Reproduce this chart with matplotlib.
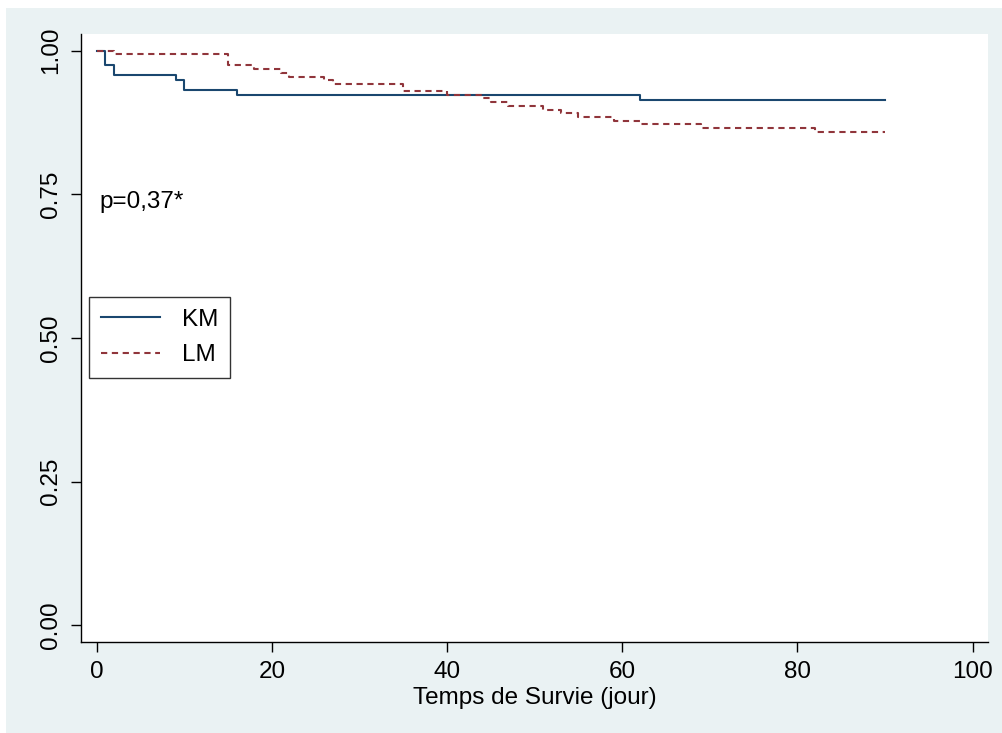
import matplotlib
matplotlib.use("Agg")
from matplotlib import pyplot as plt
from matplotlib.patches import Rectangle

plt.rcParams['font.family'] = ['Liberation Sans', 'DejaVu Sans']

# survival estimates (time in days)
km_time = [0, 1, 2, 9, 10, 16, 62, 90]
km_surv = [1.0, 0.975, 0.957, 0.949, 0.932, 0.923, 0.914, 0.914]

lm_time = [0, 2, 15, 18, 21, 22, 26, 27, 35, 40, 44, 45, 47, 51, 53, 55, 59, 62, 69, 82, 90]
lm_surv = [1.0, 0.995, 0.975, 0.968, 0.962, 0.955, 0.949, 0.942, 0.930, 0.923, 0.917,
           0.910, 0.904, 0.897, 0.891, 0.885, 0.878, 0.872, 0.866, 0.859, 0.859]

x_ticks = [0, 20, 40, 60, 80, 100]
y_ticks = [0.0, 0.25, 0.50, 0.75, 1.0]

W, H = 1003, 733
fig = plt.figure(figsize=(W / 100, H / 100), dpi=100)
fig.patch.set_facecolor('white')
fig.add_artist(Rectangle((6 / W, 0), 1, (H - 8) / H, transform=fig.transFigure,
                         facecolor='#eaf2f3', edgecolor='none', zorder=-10))

ax = fig.add_axes([80.7 / W, (H - 642) / H, 907.3 / W, 608 / H])
ax.set_facecolor('white')

ax.plot(km_time, km_surv, drawstyle='steps-post', color='#1a476f', lw=1.5, label='KM')
ax.plot(lm_time, lm_surv, drawstyle='steps-post', color='#90353b', lw=1.5,
        dashes=(3.0, 2.2), label='LM')

ax.set_xlim(-1.83, 101.75)
ax.set_ylim(-0.029, 1.029)
ax.set_xticks(x_ticks)
ax.set_yticks(y_ticks)
ax.set_yticklabels([f'{v:.2f}' for v in y_ticks])
ax.tick_params(axis='both', direction='out', length=7, width=1, colors='black',
               labelsize=17.5, pad=6.5)
ax.tick_params(axis='y', labelrotation=90)
for lbl in ax.get_yticklabels():
    lbl.set_va('center')

for side in ['top', 'right']:
    ax.spines[side].set_visible(False)
for side in ['left', 'bottom']:
    ax.spines[side].set_linewidth(1.0)

ax.set_xlabel('Temps de Survie (jour)', fontsize=17.5, labelpad=3)

ax.text(0.3, 0.726, 'p=0,37*', fontsize=17.5, ha='left', va='baseline')

leg = ax.legend(loc='upper left', bbox_to_anchor=(0.0095, 0.568), borderaxespad=0,
                fontsize=17.5, frameon=True, fancybox=False, edgecolor='black',
                handlelength=2.4, handletextpad=0.9, borderpad=0.5, labelspacing=0.55)
leg.get_frame().set_linewidth(1.0)

fig.savefig('out.png', dpi=100)
